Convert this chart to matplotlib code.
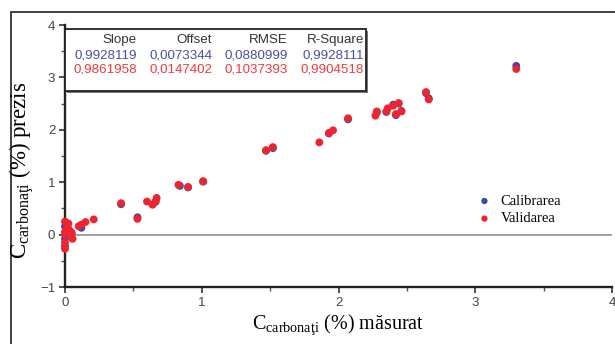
import matplotlib
matplotlib.use("Agg")
import matplotlib.pyplot as plt
from matplotlib.patches import Rectangle
from matplotlib.ticker import MultipleLocator

# ---- data ----
val_x = [3.30, 2.64, 2.66, 2.44, 2.40, 2.36, 2.35, 2.42, 2.46, 2.28, 2.27, 2.07, 1.96, 1.93, 1.86,
         1.52, 1.47, 1.01, 0.90, 0.83, 0.67, 0.665, 0.64, 0.60, 0.53, 0.41, 0.21, 0.15, 0.12, 0.10,
         0.0, 0.025, 0.01, 0.04, 0.0, 0.05, 0.055, 0.0, 0.0, 0.025, 0.03, 0.0]
val_y = [3.16, 2.72, 2.58, 2.51, 2.46, 2.41, 2.35, 2.30, 2.35, 2.35, 2.27, 2.22, 1.99, 1.94, 1.76,
         1.67, 1.61, 1.02, 0.91, 0.95, 0.70, 0.64, 0.57, 0.63, 0.30, 0.60, 0.29, 0.24, 0.19, 0.16,
         0.25, 0.21, 0.10, 0.06, 0.0, 0.03, -0.08, -0.15, -0.27, 0.11, 0.02, 0.05]
cal_x = [3.30, 2.64, 2.66, 2.40, 2.42, 2.46, 2.28, 2.07, 1.52, 0.84, 0.53, 0.41, 0.12, 0.0, 0.0,
         0.0, 0.02, 0.66, 0.90, 1.01, 1.93, 2.35, 1.47, 2.44]
cal_y = [3.22, 2.70, 2.60, 2.48, 2.28, 2.36, 2.33, 2.20, 1.65, 0.93, 0.33, 0.58, 0.13, 0.16, -0.08,
         -0.22, 0.05, 0.62, 0.90, 1.01, 1.93, 2.34, 1.60, 2.50]

headers = ["Slope", "Offset", "RMSE", "R-Square"]
cal_stats = ["0,9928119", "0,0073344", "0,0880999", "0,9928111"]
val_stats = ["0,9861958", "0,0147402", "0,1037393", "0,9904518"]

BLUE = "#3a48a8"
RED = "#ee2530"
BLUE_T = "#4652a6"
RED_T = "#f03a3e"

W, H = 615, 344
fig = plt.figure(figsize=(W / 100, H / 100), dpi=100)
fig.patch.set_facecolor("white")

ax = fig.add_axes([65 / W, 1 - 287 / H, (612 - 65) / W, (287 - 25) / H])
ax.set_xlim(0, 4)
ax.set_ylim(-1, 4)
for s in ["top", "right"]:
    ax.spines[s].set_visible(False)
for s in ["left", "bottom"]:
    ax.spines[s].set_linewidth(1.7)
    ax.spines[s].set_color("#222222")
ax.xaxis.set_major_locator(MultipleLocator(1))
ax.yaxis.set_major_locator(MultipleLocator(1))
ax.xaxis.set_minor_locator(MultipleLocator(0.5))
ax.yaxis.set_minor_locator(MultipleLocator(0.5))
ax.tick_params(which="major", direction="out", length=4, width=1.2, color="#333333",
               labelsize=9.5, labelcolor="#444444", pad=3)
ax.tick_params(which="minor", direction="out", length=3, width=1.0, color="#555555")
for lab in ax.get_xticklabels() + ax.get_yticklabels():
    lab.set_family("Liberation Sans")

ax.axhline(0, color="#9a9a9a", lw=1.3, zorder=1)

ax.scatter(cal_x, cal_y, s=32, color=BLUE, edgecolors="none", zorder=3, clip_on=False, label="Calibrarea")
ax.scatter(val_x, val_y, s=32, color=RED, edgecolors="none", zorder=4, clip_on=False, label="Validarea")

leg = ax.legend(loc="center left", bbox_to_anchor=(464 / W, 1 - 210 / H), bbox_transform=fig.transFigure,
                frameon=False, prop={"family": "Liberation Serif", "size": 10.5},
                handlelength=1.0, handletextpad=0.6, labelspacing=0.3, markerscale=0.8)

# axis labels
fig.text(338 / W, 1 - 325 / H, r"C$_{\mathregular{carbonaţi}}$ (%) măsurat", ha="center", va="center",
         family="Liberation Serif", fontsize=14.5)
fig.text(22 / W, 1 - 170 / H, r"C$_{\mathregular{carbonaţi}}$ (%) prezis", ha="center", va="center",
         rotation=90, family="Liberation Serif", fontsize=16.5)

# stats box with shadow
bx0, bx1, by0, by1 = 65, 366, 29, 91
fig.patches.append(Rectangle(((bx0 + 2) / W, 1 - (by1 + 2) / H), (bx1 - bx0) / W, (by1 - by0) / H,
                             transform=fig.transFigure, facecolor="#777777", edgecolor="none", zorder=5))
fig.patches.append(Rectangle((bx0 / W, 1 - by1 / H), (bx1 - bx0) / W, (by1 - by0) / H,
                             transform=fig.transFigure, facecolor="white", edgecolor="#222222", lw=1.3, zorder=6))
col_right = [137, 212, 288, 364]
for i in range(4):
    fig.text(col_right[i] / W, 1 - 40 / H, headers[i], ha="right", va="center", fontsize=9.6,
             family="Liberation Sans", color="#333333", zorder=7)
    fig.text(col_right[i] / W, 1 - 55 / H, cal_stats[i], ha="right", va="center", fontsize=9.6,
             family="Liberation Sans", color=BLUE_T, zorder=7)
    fig.text(col_right[i] / W, 1 - 70 / H, val_stats[i], ha="right", va="center", fontsize=9.6,
             family="Liberation Sans", color=RED_T, zorder=7)

# outer frame
fig.patches.append(Rectangle((11 / W, -0.2), 1.5, 1.2 - 12 / H, transform=fig.transFigure,
                             fill=False, edgecolor="#333333", lw=1.3, zorder=0))

fig.savefig("out.png", dpi=100)
